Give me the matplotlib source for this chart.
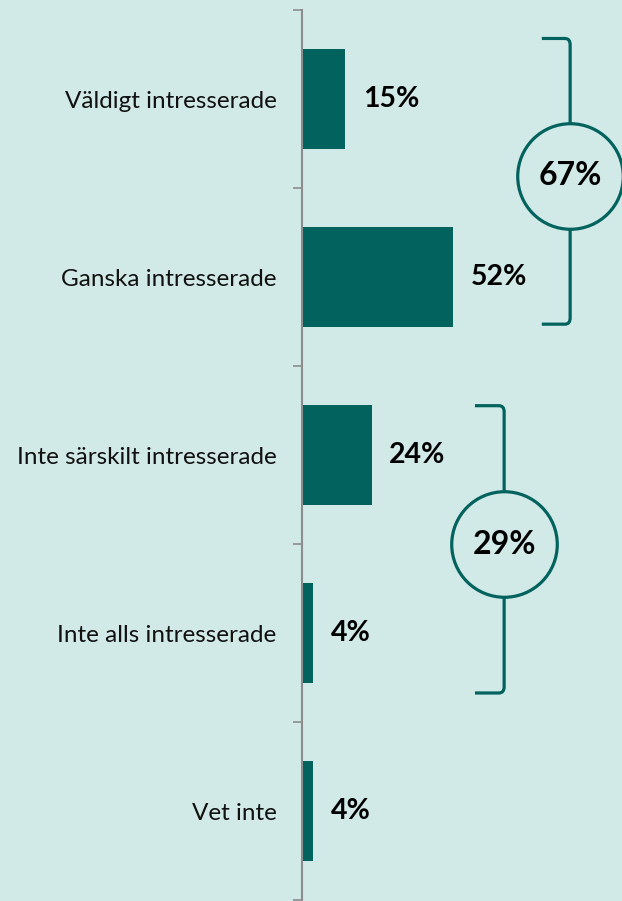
import numpy as np
import matplotlib.pyplot as plt
from matplotlib.path import Path
from matplotlib.patches import PathPatch

categories = [
    "Väldigt intresserade",
    "Ganska intresserade",
    "Inte särskilt intresserade",
    "Inte alls intresserade",
    "Vet inte",
]
values = [15, 52, 24, 4, 4]
value_labels = ["15%", "52%", "24%", "4%", "4%"]

# grouped totals: (first index, last index, label)
groups = [(0, 1, "67%"), (2, 3, "29%")]

BG = "#d2eae7"
TEAL = "#02625e"
GREY = "#8c8c8c"

plt.rcParams["font.family"] = ["Lato", "DejaVu Sans"]

fig = plt.figure(figsize=(6.22, 9.01), dpi=100, facecolor=BG)
ax = fig.add_axes([301.5 / 622, 1 - 900 / 901, 1 - 301.5 / 622, 890 / 901])
ax.set_facecolor(BG)

y = np.arange(len(categories))
ax.barh(y, values, height=0.567, color=TEAL, edgecolor="none")

ax.set_xlim(0, (622 - 301.5) / 2.92)
ax.set_ylim(len(categories) - 0.5, -0.5)

for yi, v, lab in zip(y, values, value_labels):
    ax.annotate(lab, (v, yi), xytext=(12.5, 0), textcoords="offset points",
                ha="left", va="center", fontsize=20.5, fontweight="bold", color="black")

# axis styling
for s in ["top", "right", "bottom"]:
    ax.spines[s].set_visible(False)
ax.spines["left"].set_color(GREY)
ax.spines["left"].set_linewidth(1.5)
ax.set_xticks([])
ax.set_yticks(np.arange(-0.5, len(categories), 1.0))
ax.set_yticklabels([])
ax.tick_params(axis="y", which="major", length=6.5, width=1.2, color=GREY)
ax.set_yticks(y, minor=True)
ax.set_yticklabels(categories, minor=True, fontsize=17.5, color="#111111")
ax.tick_params(axis="y", which="minor", length=0, pad=18)


def bracket(ax, y0, y1, xl, xr, ymid, label):
    rx, ry = 1.8, 0.035
    verts = [
        (xl, y0), (xr - rx, y0), (xr, y0), (xr, y0 + ry),
        (xr, y1 - ry), (xr, y1), (xr - rx, y1), (xl, y1),
    ]
    codes = [Path.MOVETO, Path.LINETO, Path.CURVE3, Path.CURVE3,
             Path.LINETO, Path.CURVE3, Path.CURVE3, Path.LINETO]
    ax.add_patch(PathPatch(Path(verts, codes), fill=False, edgecolor=TEAL,
                           linewidth=2.3, capstyle="butt", zorder=3))
    ax.plot([xr], [ymid], marker="o", markersize=76, markerfacecolor=BG,
            markeredgecolor=TEAL, markeredgewidth=2.3, zorder=4, clip_on=False)
    ax.text(xr, ymid, label, ha="center", va="center", fontsize=23,
            fontweight="bold", color="black", zorder=5)


bracket(ax, -0.34, 1.265, 82.3, 92.0, 0.43, groups[0][2])
bracket(ax, 1.723, 3.337, 59.4, 69.4, 2.5, groups[1][2])

fig.savefig("out.png", dpi=100, facecolor=BG)
